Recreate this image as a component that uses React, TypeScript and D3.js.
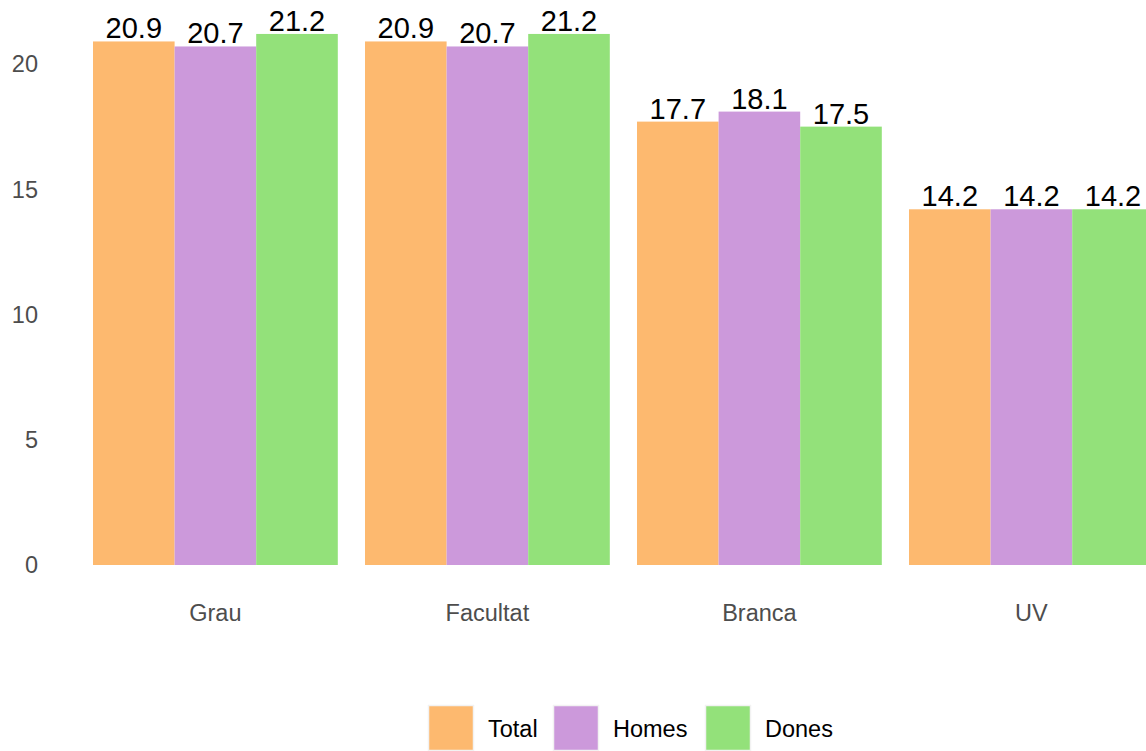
import React, { useRef, useEffect } from 'react';
import * as d3 from 'd3';

const categories = ['Grau', 'Facultat', 'Branca', 'UV'];
const seriesNames = ['Total', 'Homes', 'Dones'];
const totalValues = [20.9, 20.9, 17.7, 14.2];
const homesValues = [20.7, 20.7, 18.1, 14.2];
const donesValues = [21.2, 21.2, 17.5, 14.2];
const yTicks = [0, 5, 10, 15, 20];
const colors = ['#FDB96F', '#CC99DB', '#93E17A'];

const App = () => {
  const chartRef = useRef<SVGSVGElement>(null);

  useEffect(() => {
    renderChart(chartRef.current);
  }, []);

  const renderChart = (chartDOM: SVGSVGElement | null) => {
    if (!chartDOM) return;
    const svg = d3.select(chartDOM);
    svg.selectAll('*').remove();
    const font = '"Liberation Sans", Arial, sans-serif';

    const seriesValues = [totalValues, homesValues, donesValues];
    const rows = categories.map((c, i) => ({
      cat: c,
      values: seriesNames.map((s, j) => ({ key: s, value: seriesValues[j][i], idx: j })),
    }));

    const x = d3
      .scaleBand()
      .domain(categories)
      .range([79.4, 79.4 + 4 * 272])
      .paddingInner(0.1)
      .paddingOuter(0.05);

    const xInner = d3.scaleBand().domain(seriesNames).range([0, x.bandwidth()]);

    const y = d3.scaleLinear().domain([0, 20]).range([565, 64]);

    // bars
    const groups = svg
      .append('g')
      .selectAll('g')
      .data(rows)
      .enter()
      .append('g')
      .attr('transform', d => 'translate(' + x(d.cat) + ',0)');

    groups
      .selectAll('rect')
      .data(d => d.values)
      .enter()
      .append('rect')
      .attr('x', d => xInner(d.key) as number)
      .attr('y', d => y(d.value))
      .attr('width', xInner.bandwidth())
      .attr('height', d => y(0) - y(d.value))
      .attr('fill', d => colors[d.idx]);

    groups
      .selectAll('text')
      .data(d => d.values)
      .enter()
      .append('text')
      .attr('x', d => (xInner(d.key) as number) + xInner.bandwidth() / 2)
      .attr('y', d => y(d.value) - 3)
      .attr('text-anchor', 'middle')
      .attr('font-family', font)
      .attr('font-size', 29)
      .attr('fill', '#000')
      .text(d => d.value.toFixed(1));

    // y axis labels
    svg
      .append('g')
      .selectAll('text')
      .data(yTicks)
      .enter()
      .append('text')
      .attr('x', 38)
      .attr('y', d => y(d))
      .attr('dy', '0.36em')
      .attr('text-anchor', 'end')
      .attr('font-family', font)
      .attr('font-size', 23.5)
      .attr('fill', '#4D4D4D')
      .text(d => d);

    // x axis labels
    svg
      .append('g')
      .selectAll('text')
      .data(categories)
      .enter()
      .append('text')
      .attr('x', d => (x(d) as number) + x.bandwidth() / 2)
      .attr('y', 621)
      .attr('text-anchor', 'middle')
      .attr('font-family', font)
      .attr('font-size', 23.5)
      .attr('fill', '#4D4D4D')
      .text(d => d);

    // legend
    const legendX = [428, 553, 705];
    const legend = svg
      .append('g')
      .selectAll('g')
      .data(seriesNames)
      .enter()
      .append('g')
      .attr('transform', (d, i) => 'translate(' + legendX[i] + ',705)');

    legend
      .append('rect')
      .attr('x', 0.5)
      .attr('y', 0.5)
      .attr('width', 45)
      .attr('height', 45)
      .attr('fill', (d, i) => colors[i])
      .attr('stroke', '#F2F2F2')
      .attr('stroke-width', 1.5);

    legend
      .append('text')
      .attr('x', 60)
      .attr('y', 24)
      .attr('dy', '0.36em')
      .attr('font-family', font)
      .attr('font-size', 23.5)
      .attr('fill', '#000')
      .text(d => d);
  };

  return (
    <svg
      ref={chartRef}
      width="1146"
      height="751"
      style={{ position: 'absolute', left: 0, top: 0, background: '#fff' }}
    />
  );
};

export default App;
